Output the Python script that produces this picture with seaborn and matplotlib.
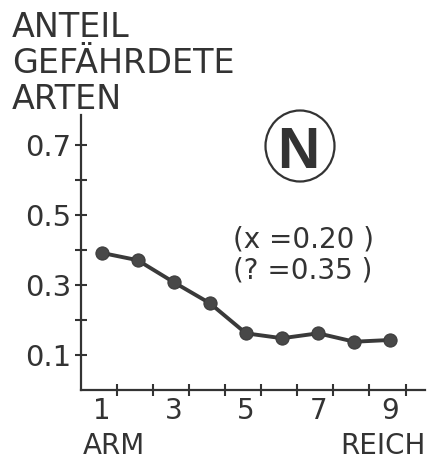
import matplotlib
matplotlib.use("Agg")
import matplotlib.pyplot as plt
import seaborn as sns
import pandas as pd
from matplotlib.patches import Ellipse

# Data
klasse = [1, 2, 3, 4, 5, 6, 7, 8, 9]
anteil = [0.392, 0.371, 0.308, 0.248, 0.162, 0.148, 0.162, 0.138, 0.143]
y_ticks = [0.1, 0.2, 0.3, 0.4, 0.5, 0.6, 0.7]
y_labels = ["0.1", "", "0.3", "", "0.5", "", "0.7"]
x_labels = ["1", "3", "5", "7", "9"]
x_label_pos = [1, 3, 5, 7, 9]
title_text = "ANTEIL\nGEFÄHRDETE\nARTEN"
stats_text = "(x =0.20 )\n(? =0.35 )"

sns.set_style("ticks")
plt.rcParams['font.family'] = ['DejaVu Sans']
ink = "#333333"

W, H = 435, 462
fig = plt.figure(figsize=(W / 100, H / 100), dpi=100)
ax = fig.add_axes([81 / W, 1 - 390 / H, (425 - 81) / W, (390 - 115) / H])

df = pd.DataFrame({"klasse": klasse, "anteil": anteil})
sns.lineplot(data=df, x="klasse", y="anteil", ax=ax, color="#3a3a3a", linewidth=2.8,
             marker="o", markersize=9.5, markeredgecolor="#3a3a3a", markerfacecolor="#484848")

ax.set_xlim(0.43, 9.96)
ax.set_ylim(0, 0.786)
ax.set_xlabel("")
ax.set_ylabel("")
sns.despine(ax=ax)
for s in ["left", "bottom"]:
    ax.spines[s].set_linewidth(1.6)
    ax.spines[s].set_color(ink)

ax.set_yticks(y_ticks)
ax.set_yticklabels(y_labels)
ax.tick_params(axis="y", direction="inout", length=8, width=1.5, color=ink,
               labelsize=21, labelcolor=ink, pad=3)

ax.set_xticks(x_label_pos)
ax.set_xticklabels(x_labels)
ax.set_xticks([k + 0.42 for k in klasse], minor=True)
ax.tick_params(axis="x", which="major", length=0, labelsize=20, labelcolor=ink, pad=5)
ax.tick_params(axis="x", which="minor", direction="inout", length=8, width=1.5, color=ink)

fig.text(12 / W, 1 - 11 / H, title_text, ha="left", va="top", fontsize=24,
         color=ink, linespacing=1.12)
fig.text(83 / W, 1 - 454 / H, "ARM", ha="left", va="baseline", fontsize=20, color=ink)
fig.text(426 / W, 1 - 454 / H, "REICH", ha="right", va="baseline", fontsize=20, color=ink)

fig.text(233 / W, 1 - 255 / H, stats_text, ha="left", va="center", fontsize=20,
         color=ink, linespacing=1.1)

fig.add_artist(Ellipse((300 / W, 1 - 146 / H), 69 / W, 71 / H, transform=fig.transFigure,
                       fill=False, edgecolor=ink, linewidth=1.6))
fig.text(298 / W, 1 - 168 / H, "N", ha="center", va="baseline", fontsize=42,
         family=["Liberation Sans", "DejaVu Sans"], fontweight="bold", color=ink)

fig.savefig("out.png", dpi=100, facecolor="white")
